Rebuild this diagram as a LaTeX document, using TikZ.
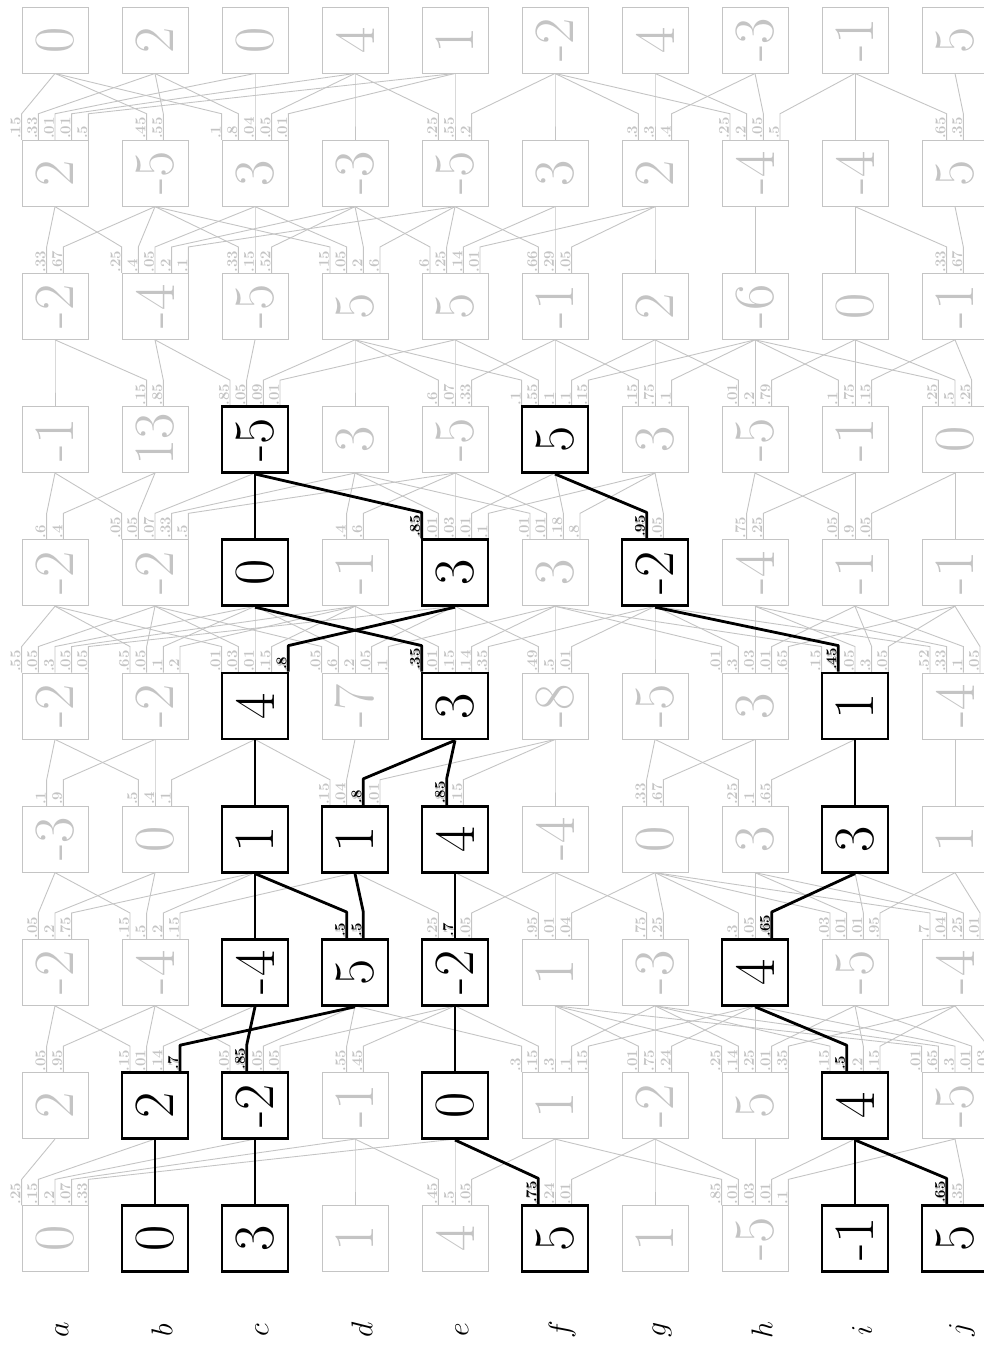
\documentclass[tikz,border=0pt]{standalone}
\usepackage{fix-cm}
\usepackage{fontspec}
\usepackage{graphicx}
\definecolor{lg}{RGB}{196,196,196}
\tikzset{
  gbox/.style={draw=lg, line width=0.9pt, minimum size=66pt, inner sep=0pt, text=lg, font=\fontsize{57}{57}\selectfont},
  kbox/.style={draw=black, fill=white, line width=2.8pt, minimum size=66pt, inner sep=0pt, text=black, font=\fontsize{57}{57}\selectfont},
  gedge/.style={draw=lg, line width=0.9pt},
  kedge/.style={draw=black, line width=2.8pt, line join=round},
  glbl/.style={text=lg, inner sep=0pt, font=\fontsize{15}{15}\selectfont\bfseries},
  klbl/.style={glbl, text=black},
  rowlbl/.style={inner sep=0pt, font=\fontsize{30}{30}\selectfont},
}
\newcommand\edg[4]{%
  \foreach \p [count=\k] in {#4} {\xdef\nn{\k}}%
  \foreach \p [count=\k] in {#4} {%
    \pgfmathsetmacro\off{(\k-(\nn+1)/2)*16.667}%
    \pgfmathsetmacro\offb{\off-0.8}%
    \pgfmathtruncatemacro\t{#3+\k-1}%
    \pgfmathtruncatemacro\rr{#1-1}%
    \draw[gedge] (B-\rr-\t.south) -- ([xshift=\off pt,yshift=26pt]B-#1-#2.north) -- ([xshift=\off pt]B-#1-#2.north);
    \ifnum\nn>1
      \node[glbl, anchor=south east] (L-#1-#2-\k) at ([xshift=\offb pt,yshift=0.6pt]B-#1-#2.north) {\rotatebox{90}{\p}};
    \fi
  }}
\newcommand\kedg[6]{%
  \pgfmathsetmacro\off{(#4-(#3+1)/2)*16.667}%
  \pgfmathsetmacro\offb{\off-1.5}%
  \pgfmathtruncatemacro\rr{#1-1}%
  \draw[kedge] (B-\rr-#5.south) -- ([xshift=\off pt,yshift=26pt]B-#1-#2.north) -- ([xshift=\off pt]B-#1-#2.north);
  \ifnum#3>1
    \node[klbl, anchor=south east] (K-#1-#2-#4) at ([xshift=\offb pt,yshift=1.5pt]B-#1-#2.north) {\rotatebox{90}{#6}};
  \fi}
\begin{document}
\begin{tikzpicture}[x=1pt,y=1pt]
\useasboundingbox (0,0) rectangle (984,-1346);
% gray boxes
\foreach \r/\vals in {
  1/{0,2,0,4,1,-2,4,-3,-1,5},
  2/{2,-5,3,-3,-5,3,2,-4,-4,5},
  3/{-2,-4,-5,5,5,-1,2,-6,0,-1},
  4/{-1,13,-5,3,-5,5,3,-5,-1,0},
  5/{-2,-2,0,-1,3,3,-2,-4,-1,-1},
  6/{-2,-2,4,-7,3,-8,-5,3,1,-4},
  7/{-3,0,1,1,4,-4,0,3,3,1},
  8/{-2,-4,-4,5,-2,1,-3,4,-5,-4},
  9/{2,2,-2,-1,0,1,-2,5,4,-5},
  10/{0,0,3,1,4,5,1,-5,-1,5}} {
  \foreach \v [count=\c from 0] in \vals {
    \node[gbox] (B-\r-\c) at ({55+100*\c},{-40-133.2*(\r-1)}) {\rotatebox{90}{\v}};
  }
}
% gray edges: row, col, first target col, labels
\edg{2}{0}{0}{.15,.33,.01,.01,.5}
\edg{2}{1}{0}{.45,.55}
\edg{2}{2}{0}{.1,.8,.04,.05,.01}
\edg{2}{3}{3}{1}
\edg{2}{4}{3}{.25,.55,.2}
\edg{2}{5}{5}{1}
\edg{2}{6}{5}{.3,.3,.4}
\edg{2}{7}{5}{.25,.2,.05,.5}
\edg{2}{8}{8}{1}
\edg{2}{9}{8}{.65,.35}
\edg{3}{0}{0}{.33,.67}
\edg{3}{1}{0}{.25,.4,.05,.2,.1}
\edg{3}{2}{1}{.33,.15,.52}
\edg{3}{3}{1}{.15,.05,.2,.6}
\edg{3}{4}{3}{.6,.25,.14,.01}
\edg{3}{5}{4}{.66,.29,.05}
\edg{3}{6}{6}{1}
\edg{3}{7}{7}{1}
\edg{3}{8}{8}{1}
\edg{3}{9}{8}{.33,.67}
\edg{4}{0}{0}{1}
\edg{4}{1}{0}{.15,.85}
\edg{4}{2}{1}{.85,.05,.09,.01}
\edg{4}{3}{3}{1}
\edg{4}{4}{3}{.6,.07,.33}
\edg{4}{5}{3}{.1,.55,.1,.1,.15}
\edg{4}{6}{5}{.15,.75,.1}
\edg{4}{7}{6}{.01,.2,.79}
\edg{4}{8}{7}{.1,.75,.15}
\edg{4}{9}{7}{.25,.5,.25}
\edg{5}{0}{0}{.6,.4}
\edg{5}{1}{0}{.05,.05,.07,.33,.5}
\edg{5}{2}{2}{1}
\edg{5}{3}{3}{.4,.6}
\edg{5}{4}{2}{.85,.01,.03,.01,.1}
\edg{5}{5}{3}{.01,.01,.18,.8}
\edg{5}{6}{5}{.95,.05}
\edg{5}{7}{7}{.75,.25}
\edg{5}{8}{7}{.05,.9,.05}
\edg{5}{9}{9}{1}
\edg{6}{0}{0}{.55,.05,.3,.05,.05}
\edg{6}{1}{0}{.65,.05,.1,.2}
\edg{6}{2}{0}{.01,.03,.01,.15,.8}
\edg{6}{3}{1}{.05,.6,.2,.05,.1}
\edg{6}{4}{2}{.35,.01,.15,.14,.35}
\edg{6}{5}{4}{.49,.5,.01}
\edg{6}{6}{6}{1}
\edg{6}{7}{5}{.01,.3,.03,.01,.65}
\edg{6}{8}{5}{.15,.45,.05,.3,.05}
\edg{6}{9}{6}{.52,.33,.1,.05}
\edg{7}{0}{0}{.1,.9}
\edg{7}{1}{0}{.5,.4,.1}
\edg{7}{2}{2}{1}
\edg{7}{3}{2}{.15,.04,.8,.01}
\edg{7}{4}{4}{.85,.15}
\edg{7}{5}{5}{1}
\edg{7}{6}{6}{.33,.67}
\edg{7}{7}{6}{.25,.1,.65}
\edg{7}{8}{8}{1}
\edg{7}{9}{9}{1}
\edg{8}{0}{0}{.05,.2,.75}
\edg{8}{1}{0}{.15,.5,.2,.15}
\edg{8}{2}{2}{1}
\edg{8}{3}{2}{.5,.5}
\edg{8}{4}{3}{.25,.7,.05}
\edg{8}{5}{4}{.95,.01,.04}
\edg{8}{6}{5}{.75,.25}
\edg{8}{7}{6}{.3,.05,.65}
\edg{8}{8}{6}{.03,.01,.01,.95}
\edg{8}{9}{6}{.7,.04,.25,.01}
\edg{9}{0}{0}{.05,.95}
\edg{9}{1}{0}{.15,.01,.14,.7}
\edg{9}{2}{1}{.05,.85,.05,.05}
\edg{9}{3}{3}{.55,.45}
\edg{9}{4}{4}{1}
\edg{9}{5}{3}{.3,.15,.3,.1,.15}
\edg{9}{6}{5}{.01,.75,.24}
\edg{9}{7}{5}{.25,.14,.25,.01,.35}
\edg{9}{8}{6}{.15,.5,.2,.15}
\edg{9}{9}{5}{.01,.65,.3,.01,.03}
\edg{10}{0}{0}{.25,.15,.2,.07,.33}
\edg{10}{1}{1}{1}
\edg{10}{2}{2}{1}
\edg{10}{3}{3}{1}
\edg{10}{4}{3}{.45,.5,.05}
\edg{10}{5}{4}{.75,.24,.01}
\edg{10}{6}{6}{1}
\edg{10}{7}{5}{.85,.01,.03,.01,.1}
\edg{10}{8}{8}{1}
\edg{10}{9}{8}{.65,.35}
% black boxes
\foreach \r/\c/\v in {4/2/-5,4/5/5,5/2/0,5/4/3,5/6/-2,6/2/4,6/4/3,6/8/1,
  7/2/1,7/3/1,7/4/4,7/8/3,8/2/-4,8/3/5,8/4/-2,8/7/4,9/1/2,9/2/-2,9/4/0,9/8/4,
  10/1/0,10/2/3,10/5/5,10/8/-1,10/9/5} {
  \node[kbox] (B-\r-\c) at ({55+100*\c},{-40-133.2*(\r-1)}) {\rotatebox{90}{\v}};
}
% black edges: row, col, n, k, target, label
\kedg{5}{2}{1}{1}{2}{}
\kedg{5}{4}{5}{1}{2}{.85}
\kedg{5}{6}{2}{1}{5}{.95}
\kedg{6}{2}{5}{5}{4}{.8}
\kedg{6}{4}{5}{1}{2}{.35}
\kedg{6}{8}{5}{2}{6}{.45}
\kedg{7}{2}{1}{1}{2}{}
\kedg{7}{3}{4}{3}{4}{.8}
\kedg{7}{4}{2}{1}{4}{.85}
\kedg{7}{8}{1}{1}{8}{}
\kedg{8}{2}{1}{1}{2}{}
\kedg{8}{3}{2}{1}{2}{.5}
\kedg{8}{3}{2}{2}{3}{.5}
\kedg{8}{4}{3}{2}{4}{.7}
\kedg{8}{7}{3}{3}{8}{.65}
\kedg{9}{1}{4}{4}{3}{.7}
\kedg{9}{2}{4}{2}{2}{.85}
\kedg{9}{4}{1}{1}{4}{}
\kedg{9}{8}{4}{2}{7}{.5}
\kedg{10}{1}{1}{1}{1}{}
\kedg{10}{2}{1}{1}{2}{}
\kedg{10}{5}{3}{1}{4}{.75}
\kedg{10}{8}{1}{1}{8}{}
\kedg{10}{9}{2}{1}{8}{.65}
% column letters
\foreach \l [count=\c from 0] in {a,b,c,d,e,f,g,h,i,j} {
  \node[rowlbl, rotate=90] (C-\c) at ({62+100*\c},-1330) {$\l$};
}
\end{tikzpicture}
\end{document}
